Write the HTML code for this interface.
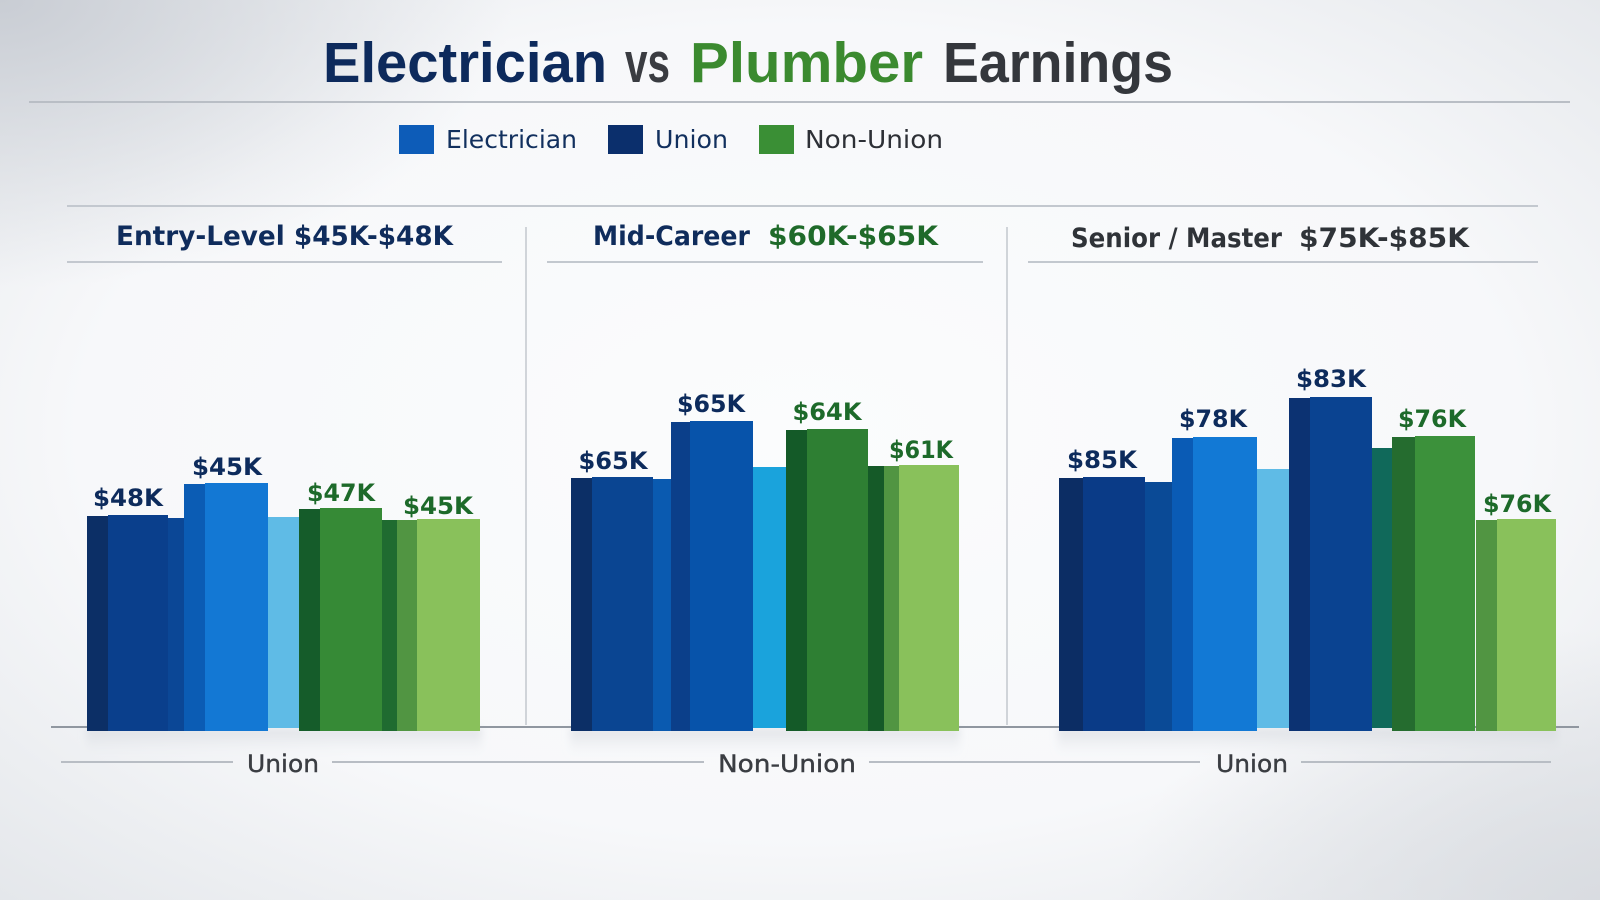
<!DOCTYPE html>
<html>
<head>
<meta charset="utf-8">
<style>
  html,body{margin:0;padding:0;width:1600px;height:900px;overflow:hidden;background:#f6f7f9;}
  svg{display:block;}
  .t{font-family:"Liberation Sans",Arial,sans-serif;font-weight:bold;font-size:57px;}
  .lg{font-family:"DejaVu Sans","Liberation Sans",sans-serif;font-size:25px;}
  .ph{font-family:"DejaVu Sans","Liberation Sans",sans-serif;font-weight:bold;font-size:27px;}
  .bl{font-family:"DejaVu Sans","Liberation Sans",sans-serif;font-weight:bold;font-size:24px;}
  .cl{font-family:"DejaVu Sans","Liberation Sans",sans-serif;font-size:24px;fill:#3a3d42;stroke:#3a3d42;stroke-width:0.4;}
</style>
</head>
<body>
<svg width="1600" height="900" viewBox="0 0 1600 900" xmlns="http://www.w3.org/2000/svg">
  <defs>
    <radialGradient id="bg" cx="50%" cy="48%" r="75%">
      <stop offset="0%" stop-color="#fbfcfd"/>
      <stop offset="60%" stop-color="#f7f8fa"/>
      <stop offset="100%" stop-color="#e2e5e9"/>
    </radialGradient>
    <radialGradient id="tl" cx="0%" cy="0%" r="32%">
      <stop offset="0%" stop-color="#c9cdd4" stop-opacity="1"/>
      <stop offset="100%" stop-color="#cfd3d9" stop-opacity="0"/>
    </radialGradient>
    <radialGradient id="br" cx="100%" cy="100%" r="30%">
      <stop offset="0%" stop-color="#d6d9de" stop-opacity="0.8"/>
      <stop offset="100%" stop-color="#d6d9de" stop-opacity="0"/>
    </radialGradient>
    <linearGradient id="sh" x1="0" y1="0" x2="0" y2="1">
      <stop offset="0%" stop-color="#cdd1d7" stop-opacity="0.6"/>
      <stop offset="100%" stop-color="#e8eaee" stop-opacity="0"/>
    </linearGradient>
    <filter id="blur" x="-10%" y="-50%" width="120%" height="200%">
      <feGaussianBlur stdDeviation="4"/>
    </filter>
  </defs>

  <!-- background -->
  <rect x="0" y="0" width="1600" height="900" fill="url(#bg)"/>
  <rect x="0" y="0" width="1600" height="900" fill="url(#tl)"/>
  <rect x="0" y="0" width="1600" height="900" fill="url(#br)"/>

  <!-- title -->
  <text class="t" x="323" y="82" fill="#0d2a5c" textLength="284" lengthAdjust="spacingAndGlyphs">Electrician</text>
  <text class="t" x="625" y="82" fill="#3a3c41" textLength="45" lengthAdjust="spacingAndGlyphs">vs</text>
  <text class="t" x="690" y="82" fill="#3b8a2f" textLength="233" lengthAdjust="spacingAndGlyphs">Plumber</text>
  <text class="t" x="943" y="82" fill="#34373c" textLength="230" lengthAdjust="spacingAndGlyphs">Earnings</text>
  <line x1="29" y1="102" x2="1570" y2="102" stroke="#b9bec5" stroke-width="2"/>

  <!-- legend -->
  <rect x="399" y="125" width="35" height="29" fill="#0d5cb8"/>
  <text class="lg" x="446" y="148" fill="#12305e" textLength="131" lengthAdjust="spacingAndGlyphs">Electrician</text>
  <rect x="608" y="125" width="35" height="29" fill="#0b2f6c"/>
  <text class="lg" x="655" y="148" fill="#12305e" textLength="73" lengthAdjust="spacingAndGlyphs">Union</text>
  <rect x="759" y="125" width="35" height="29" fill="#3a8f35"/>
  <text class="lg" x="805" y="148" fill="#2d3036" textLength="138" lengthAdjust="spacingAndGlyphs">Non-Union</text>

  <!-- panel header lines -->
  <line x1="67" y1="206" x2="1538" y2="206" stroke="#c3c8cf" stroke-width="2"/>
  <line x1="67" y1="262" x2="502" y2="262" stroke="#c3c8cf" stroke-width="2"/>
  <line x1="547" y1="262" x2="983" y2="262" stroke="#c3c8cf" stroke-width="2"/>
  <line x1="1028" y1="262" x2="1538" y2="262" stroke="#c3c8cf" stroke-width="2"/>

  <!-- panel headers -->
  <text class="ph" x="116" y="245" fill="#0f2c5c" textLength="337" lengthAdjust="spacingAndGlyphs">Entry-Level $45K-$48K</text>
  <text class="ph" x="593" y="245" fill="#0f2c5c" textLength="157" lengthAdjust="spacingAndGlyphs">Mid-Career</text>
  <text class="ph" x="768" y="245" fill="#1f6a2a" textLength="170" lengthAdjust="spacingAndGlyphs">$60K-$65K</text>
  <text class="ph" x="1071" y="247" fill="#2f3338" textLength="211" lengthAdjust="spacingAndGlyphs">Senior / Master</text>
  <text class="ph" x="1299" y="247" fill="#2f3338" textLength="170" lengthAdjust="spacingAndGlyphs">$75K-$85K</text>

  <!-- vertical separators -->
  <line x1="526" y1="227" x2="526" y2="725" stroke="#c3c8ce" stroke-width="1.5"/>
  <line x1="1007" y1="227" x2="1007" y2="725" stroke="#c3c8ce" stroke-width="1.5"/>

  <!-- shadows under bars -->
  <g filter="url(#blur)">
    <rect x="86" y="728" width="396" height="28" fill="url(#sh)"/>
    <rect x="570" y="728" width="390" height="28" fill="url(#sh)"/>
    <rect x="1058" y="728" width="500" height="28" fill="url(#sh)"/>
  </g>

  <!-- baseline -->
  <line x1="51" y1="727" x2="1579" y2="727" stroke="#9097a0" stroke-width="2"/>

  <!-- group 1 bars -->
  <rect x="87" y="516" width="21" height="215" fill="#0c2f66"/>
  <rect x="108" y="515" width="60" height="216" fill="#0a3f8c"/>
  <rect x="168" y="518" width="16" height="213" fill="#0b4796"/>
  <rect x="184" y="484" width="21" height="247" fill="#0b5cb4"/>
  <rect x="205" y="483" width="63" height="248" fill="#1378d4"/>
  <rect x="268" y="517" width="32" height="211" fill="#5fbbe6"/>
  <rect x="299" y="509" width="21" height="222" fill="#155c2a"/>
  <rect x="320" y="508" width="62" height="223" fill="#368a36"/>
  <rect x="382" y="520" width="15" height="211" fill="#1f6b30"/>
  <rect x="397" y="520" width="20" height="211" fill="#519542"/>
  <rect x="417" y="519" width="63" height="212" fill="#89c15b"/>

  <!-- group 2 bars -->
  <rect x="571" y="478" width="21" height="253" fill="#0c2f66"/>
  <rect x="592" y="477" width="61" height="254" fill="#0a4592"/>
  <rect x="653" y="479" width="18" height="252" fill="#0a5ab0"/>
  <rect x="671" y="422" width="19" height="309" fill="#0b3f8a"/>
  <rect x="690" y="421" width="63" height="310" fill="#0753aa"/>
  <rect x="753" y="467" width="33" height="261" fill="#1aa3dc"/>
  <rect x="786" y="430" width="21" height="301" fill="#145a28"/>
  <rect x="807" y="429" width="61" height="302" fill="#2e7f33"/>
  <rect x="868" y="466" width="16" height="265" fill="#155a28"/>
  <rect x="884" y="466" width="15" height="265" fill="#519542"/>
  <rect x="899" y="465" width="60" height="266" fill="#89c15b"/>

  <!-- group 3 bars -->
  <rect x="1059" y="478" width="24" height="253" fill="#0c2d64"/>
  <rect x="1083" y="477" width="62" height="254" fill="#0a3b87"/>
  <rect x="1145" y="482" width="27" height="249" fill="#0a4a96"/>
  <rect x="1172" y="438" width="21" height="293" fill="#0a5bb5"/>
  <rect x="1193" y="437" width="64" height="294" fill="#1279d5"/>
  <rect x="1257" y="469" width="32" height="259" fill="#5fbbe6"/>
  <rect x="1289" y="398" width="21" height="333" fill="#0c3272"/>
  <rect x="1310" y="397" width="62" height="334" fill="#0a4391"/>
  <rect x="1372" y="448" width="20" height="280" fill="#10695a"/>
  <rect x="1392" y="437" width="23" height="294" fill="#256c2f"/>
  <rect x="1415" y="436" width="60" height="295" fill="#3c913b"/>
  <rect x="1476" y="520" width="21" height="211" fill="#519542"/>
  <rect x="1497" y="519" width="59" height="212" fill="#89c15b"/>

  <!-- bar value labels -->
  <g class="bl" text-anchor="middle">
    <text x="128" y="506" fill="#0d2b5c" textLength="70" lengthAdjust="spacingAndGlyphs">$48K</text>
    <text x="227" y="475" fill="#0d2b5c" textLength="70" lengthAdjust="spacingAndGlyphs">$45K</text>
    <text x="341" y="501" fill="#1d6a2a" textLength="68" lengthAdjust="spacingAndGlyphs">$47K</text>
    <text x="438" y="514" fill="#1d6a2a" textLength="70" lengthAdjust="spacingAndGlyphs">$45K</text>

    <text x="613" y="469" fill="#0d2b5c" textLength="69" lengthAdjust="spacingAndGlyphs">$65K</text>
    <text x="711" y="412" fill="#0d2b5c" textLength="68" lengthAdjust="spacingAndGlyphs">$65K</text>
    <text x="827" y="420" fill="#1d6a2a" textLength="69" lengthAdjust="spacingAndGlyphs">$64K</text>
    <text x="921" y="458" fill="#1d6a2a" textLength="64" lengthAdjust="spacingAndGlyphs">$61K</text>

    <text x="1102" y="468" fill="#0d2b5c" textLength="70" lengthAdjust="spacingAndGlyphs">$85K</text>
    <text x="1213" y="427" fill="#0d2b5c" textLength="68" lengthAdjust="spacingAndGlyphs">$78K</text>
    <text x="1331" y="387" fill="#0d2b5c" textLength="70" lengthAdjust="spacingAndGlyphs">$83K</text>
    <text x="1432" y="427" fill="#1d6a2a" textLength="68" lengthAdjust="spacingAndGlyphs">$76K</text>
    <text x="1517" y="512" fill="#1d6a2a" textLength="68" lengthAdjust="spacingAndGlyphs">$76K</text>
  </g>

  <!-- category lines -->
  <line x1="61" y1="762" x2="233" y2="762" stroke="#b8bdc4" stroke-width="2"/>
  <line x1="332" y1="762" x2="704" y2="762" stroke="#b8bdc4" stroke-width="2"/>
  <line x1="869" y1="762" x2="1200" y2="762" stroke="#b8bdc4" stroke-width="2"/>
  <line x1="1301" y1="762" x2="1551" y2="762" stroke="#b8bdc4" stroke-width="2"/>

  <!-- category labels -->
  <text class="cl" x="283" y="772" text-anchor="middle" textLength="72" lengthAdjust="spacingAndGlyphs">Union</text>
  <text class="cl" x="787" y="772" text-anchor="middle" textLength="138" lengthAdjust="spacingAndGlyphs">Non-Union</text>
  <text class="cl" x="1252" y="772" text-anchor="middle" textLength="72" lengthAdjust="spacingAndGlyphs">Union</text>
</svg>
</body>
</html>
